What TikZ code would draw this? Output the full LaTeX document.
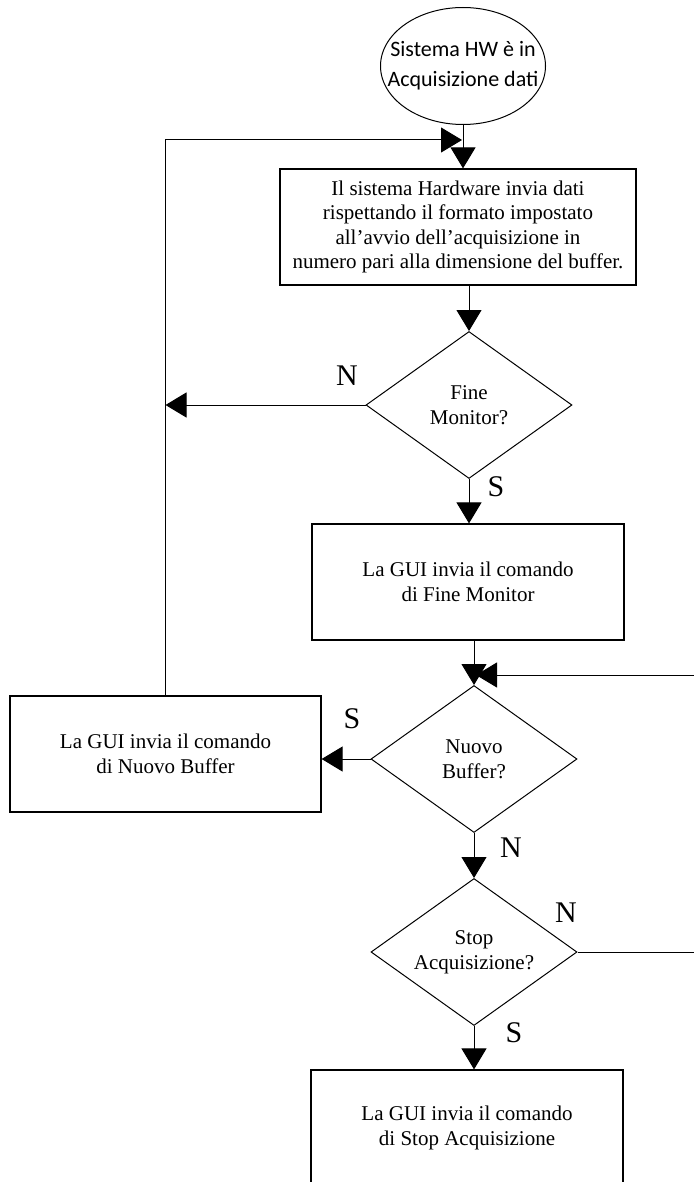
\documentclass[tikz,border=0pt]{standalone}
\usepackage{fontspec}
\setmainfont{Liberation Serif}
\newfontfamily\calibrifont{Carlito}
\usetikzlibrary{arrows.meta,shapes.geometric}

\begin{document}
\begin{tikzpicture}[
    x=0.5pt, y=-0.5pt,
    start/.style={ellipse, draw, line width=0.5pt, minimum width=82.5pt, minimum height=58.5pt,
      inner xsep=-9pt, inner ysep=0pt, align=center, font=\calibrifont\fontsize{11}{15}\selectfont},
    proc/.style={rectangle, draw, line width=0.6pt, minimum width=#1, minimum height=58pt,
      inner sep=0pt, align=center, font=\fontsize{10.5}{12.3}\selectfont},
    proc/.default=156pt,
    test/.style={diamond, draw, line width=0.5pt, aspect=1.4, minimum width=103pt, minimum height=73.5pt,
      inner sep=0pt, align=center, font=\fontsize{10.5}{12.3}\selectfont},
    line/.style={-{Triangle[length=10.5pt, width=12.5pt]}, line width=0.5pt},
    lab/.style={inner sep=0pt, font=\fontsize{15}{18}\selectfont},
  ]
  \useasboundingbox (0,0) rectangle (694,1182);
  \clip (0,0) rectangle (694,1182);
  \node[start] (avvio) at (463,66) {Sistema HW è in\\Acquisizione dati};
  \node[proc=178pt] (invio) at (458,227) {Il sistema Hardware invia dati\\rispettando il formato impostato\\all'avvio dell'acquisizione in\\numero pari alla dimensione del buffer.};
  \node[test] (fine) at (469,405) {Fine\\Monitor?};
  \node[proc] (cmdfine) at (468,582) {La GUI invia il comando\\di Fine Monitor};
  \node[test] (nuovo) at (474,759) {Nuovo\\Buffer?};
  \node[proc=155.5pt] (cmdnuovo) at (165.5,754) {La GUI invia il comando\\di Nuovo Buffer};
  \node[test] (stop) at (474,952) {Stop\\Acquisizione?};
  \node[proc] (cmdstop) at (467,1128) {La GUI invia il comando\\di Stop Acquisizione};
  \coordinate (ritorno) at (462,140);
  \coordinate (rientro) at (476,675);
  % risposte
  \node[lab] (n1) at (347,376) {N};
  \node[lab] (s1) at (496,487) {S};
  \node[lab] (s2) at (352,719) {S};
  \node[lab] (n2) at (511,848) {N};
  \node[lab] (n3) at (566,913) {N};
  \node[lab] (s3) at (514,1033) {S};
  % collegamenti
  \draw[line] (avvio.south) -- (invio.north -| avvio.south);
  \draw[line] (invio.south -| fine.north) -- (fine.north);
  \draw[line] (fine.south) -- (cmdfine.north -| fine.south);
  \draw[line] (cmdfine.south -| nuovo.north) -- (nuovo.north);
  \draw[line] (nuovo.south) -- (stop.north);
  \draw[line] (stop.south) -- (cmdstop.north -| stop.south);
  \draw[line] (fine.west) -- (fine.west -| cmdnuovo.north);
  \draw[line] (nuovo.west) -- (nuovo.west -| cmdnuovo.east);
  \draw[line] (cmdnuovo.north) |- (ritorno);
  \draw[line] (stop.east) -- ++(130,0) |- (rientro);
\end{tikzpicture}
\end{document}
